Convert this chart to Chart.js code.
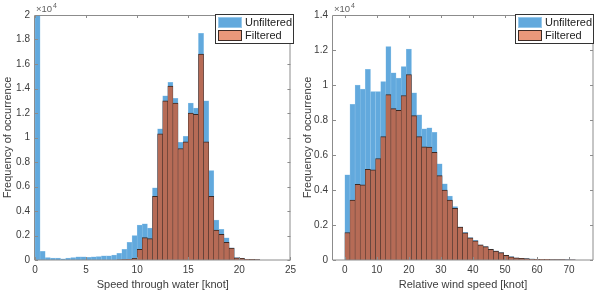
<!DOCTYPE html>
<html><head><meta charset="utf-8">
<script src="https://cdn.jsdelivr.net/npm/chart.js@4.4.1/dist/chart.umd.min.js"></script>
<style>
html,body{margin:0;padding:0;background:#fff;width:600px;height:292px;overflow:hidden}
.c{position:absolute;top:0;width:300px;height:292px}
</style></head><body>
<div class="c" style="left:0"><canvas id="c1" width="300" height="292"></canvas></div>
<div class="c" style="left:300px"><canvas id="c2" width="300" height="292"></canvas></div>
<script>
// ---------- DATA ----------
const seriesNames = ['Unfiltered', 'Filtered'];

// Left: speed through water, bin left edges [knot], bin width 0.5
const speedBinWidth = 0.5;
const speedBins = [0,0.5,1,1.5,2,2.5,3,3.5,4,4.5,5,5.5,6,6.5,7,7.5,8,8.5,9,9.5,10,10.5,11,11.5,12,12.5,13,13.5,14,14.5,15,15.5,16,16.5,17,17.5,18,18.5,19,19.5,20,20.5,21,21.5];
const speedUnfiltered = [20500,700,200,150,150,100,150,200,250,250,220,250,280,350,350,400,550,870,1450,2000,2850,2950,2600,5900,10700,13400,14500,13200,9600,10100,12800,12400,18500,13000,7300,3250,2500,1800,1000,200,150,70,50,30];
const speedFiltered   = [0,0,0,0,0,0,0,0,0,0,0,0,0,0,0,0,20,40,60,130,870,1830,1750,5200,10300,13000,14200,12800,9100,9650,12000,11900,16800,9650,5200,2450,2100,1450,980,180,130,60,45,25];
const speedXTicks = [0,5,10,15,20,25];
const speedYTicks = [0,2000,4000,6000,8000,10000,12000,14000,16000,18000,20000];
const speedYTickLabels = ['0','0.2','0.4','0.6','0.8','1','1.2','1.4','1.6','1.8','2'];

// Right: relative wind speed, bin left edges [knot], bin width 1.6
const windBinWidth = 1.6;
const windBins = [0,1.6,3.2,4.8,6.4,8,9.6,11.2,12.8,14.4,16,17.6,19.2,20.8,22.4,24,25.6,27.2,28.8,30.4,32,33.6,35.2,36.8,38.4,40,41.6,43.2,44.8,46.4,48,49.6,51.2,52.8,54.4,56,57.6,59.2,60.8,62.4,64,65.6,67.2,68.8,70.4];
const windUnfiltered = [4860,8900,10000,9770,10900,9620,9620,10200,12200,10700,10400,11050,12050,9550,8300,7500,7550,7300,5500,4350,3650,3050,1900,1580,1280,1120,870,770,620,520,430,280,190,130,100,80,60,50,40,40,30,30,20,20,10];
const windFiltered   = [1570,3430,4320,4300,5180,5150,5800,7050,9450,8650,8550,9400,10600,8250,7050,6470,6450,6150,4820,4000,3430,2950,1880,1550,1260,1100,860,760,610,510,420,270,185,125,95,75,55,45,38,35,28,25,18,15,8];
const windXTicks = [0,10,20,30,40,50,60,70];
const windYTicks = [0,2000,4000,6000,8000,10000,12000,14000];
const windYTickLabels = ['0','0.2','0.4','0.6','0.8','1','1.2','1.4'];

// ---------- STYLE ----------
const BLUE = 'rgb(98,169,221)';
const BLUE_EDGE = 'rgb(150,200,235)';
const BROWN = 'rgb(182,107,86)';
const BROWN_EDGE = 'rgb(60,42,36)';
const SALMON = 'rgb(233,152,122)';
const TXT = '#3c3c3c';
const AXIS = '#8c8c8c';
const FONT = 'Arial, "Liberation Sans", Helvetica, sans-serif';

const framePlugin = {
  id: 'frame',
  afterDraw(chart) {
    const {ctx, chartArea: {left, right, top, bottom}} = chart;
    const xs = chart.scales.x, ys = chart.scales.y;
    ctx.save();
    ctx.strokeStyle = AXIS; ctx.lineWidth = 1;
    ctx.beginPath();
    ctx.rect(Math.round(left) - 0.5, Math.round(top) + 0.5, Math.round(right) - Math.round(left) + 0.5, Math.round(bottom) - Math.round(top) - 0.5);
    ctx.stroke();
    ctx.beginPath();
    xs.ticks.forEach(t => {
      const px = Math.round(xs.getPixelForValue(t.value)) + 0.5;
      ctx.moveTo(px, bottom); ctx.lineTo(px, bottom - 3);
      ctx.moveTo(px, top); ctx.lineTo(px, top + 3);
    });
    ys.ticks.forEach(t => {
      const py = Math.round(ys.getPixelForValue(t.value)) + 0.5;
      ctx.moveTo(left, py); ctx.lineTo(left + 3, py);
      ctx.moveTo(right, py); ctx.lineTo(right - 3, py);
    });
    ctx.stroke();
    // exponent label
    ctx.fillStyle = '#606060';
    ctx.textBaseline = 'alphabetic';
    ctx.font = '9.5px ' + FONT;
    ctx.fillText('\u00d710', left + 1, 12);
    const w = ctx.measureText('\u00d710').width;
    ctx.font = '7px ' + FONT;
    ctx.fillText('4', left + 1 + w + 1, 7.5);
    // legend
    const lx = 215, ly = 14, lw = 79, lh = 30;
    ctx.fillStyle = '#fff';
    ctx.fillRect(lx, ly, lw, lh);
    ctx.strokeStyle = '#333'; ctx.lineWidth = 1;
    ctx.strokeRect(lx + 0.5, ly + 0.5, lw - 1, lh - 1);
    const ds = chart.data.datasets;
    const sw = [[BLUE, BLUE_EDGE], [SALMON, BROWN_EDGE]];
    ds.forEach((d, i) => {
      const sy = ly + 3 + i * 13;
      ctx.fillStyle = sw[i][0];
      ctx.fillRect(lx + 3, sy, 24, 11);
      ctx.strokeStyle = sw[i][1];
      ctx.strokeRect(lx + 3.5, sy + 0.5, 23, 10);
      ctx.fillStyle = '#222';
      ctx.font = '11px ' + FONT;
      ctx.textBaseline = 'middle';
      ctx.fillText(d.label, lx + 30, sy + 6);
    });
    ctx.restore();
  }
};

function makeChart(id, cfg) {
  const mk = (vals) => cfg.bins.map((b, i) => ({x: b + cfg.w / 2, y: vals[i]}));
  return new Chart(document.getElementById(id), {
    type: 'bar',
    data: {
      datasets: [
        {label: seriesNames[0], data: mk(cfg.unf), backgroundColor: BLUE, borderColor: BLUE_EDGE,
         borderWidth: {left: 0.5, right: 0.5, top: 0.5, bottom: 0}, borderSkipped: false,
         order: 1, grouped: false, barPercentage: 1, categoryPercentage: 1},
        {label: seriesNames[1], data: mk(cfg.fil), backgroundColor: BROWN, borderColor: BROWN_EDGE,
         borderWidth: {left: 0.5, right: 0.5, top: 1, bottom: 0}, borderSkipped: false,
         order: 0, grouped: false, barPercentage: 1, categoryPercentage: 1}
      ]
    },
    options: {
      responsive: false, animation: false, devicePixelRatio: 1,
      layout: {padding: {left: 0, right: cfg.padRight, top: 15, bottom: 0}},
      plugins: {legend: {display: false}, tooltip: {enabled: false}},
      scales: {
        x: {
          type: 'linear', min: cfg.xmin, max: cfg.xmax, offset: false,
          grid: {display: false, drawTicks: false}, border: {display: false},
          ticks: {font: {size: 10, family: FONT}, color: TXT, padding: 4, maxRotation: 0, autoSkip: false},
          title: {display: true, text: cfg.xTitle, font: {size: 11, family: FONT}, color: TXT, padding: {top: 0, bottom: 0}},
          afterBuildTicks(s) { s.ticks = cfg.xTicks.map(v => ({value: v})); },
          afterFit(s) { s.height = 32; }
        },
        y: {
          min: 0, max: cfg.ymax,
          grid: {display: false, drawTicks: false}, border: {display: false},
          ticks: {font: {size: 10, family: FONT}, color: TXT, padding: 5, autoSkip: false,
                  callback: (v) => { const k = cfg.yTicks.indexOf(v); return k >= 0 ? cfg.yLabels[k] : ''; }},
          title: {display: true, text: 'Frequency of occurrence', font: {size: 11, family: FONT}, color: TXT, padding: {top: 1, bottom: 0}},
          afterBuildTicks(s) { s.ticks = cfg.yTicks.map(v => ({value: v})); },
          afterFit(s) { s.width = cfg.yw; }
        }
      }
    },
    plugins: [framePlugin]
  });
}

makeChart('c1', {bins: speedBins, w: speedBinWidth, unf: speedUnfiltered, fil: speedFiltered,
  xmin: 0, xmax: 25, ymax: 20000, xTicks: speedXTicks, yTicks: speedYTicks, yLabels: speedYTickLabels,
  xTitle: 'Speed through water [knot]', padRight: 8, yw: 35});
makeChart('c2', {bins: windBins, w: windBinWidth, unf: windUnfiltered, fil: windFiltered,
  xmin: -3.7, xmax: 77.5, ymax: 14000, xTicks: windXTicks, yTicks: windYTicks, yLabels: windYTickLabels,
  xTitle: 'Relative wind speed [knot]', padRight: 7, yw: 33});
</script>
</body></html>
